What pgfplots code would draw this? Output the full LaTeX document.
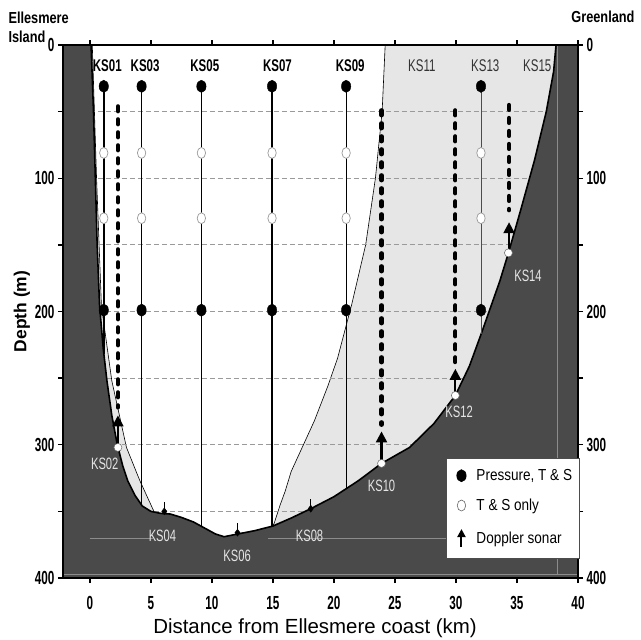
\documentclass[border=0pt]{standalone}
\usepackage{fontspec}
\setmainfont{Liberation Sans}
\newfontfamily\tickf{Liberation Sans}[FakeStretch=0.62]
\newfontfamily\labf{Liberation Sans}[FakeStretch=0.68]
\newfontfamily\legf{Liberation Sans}[FakeStretch=0.85]
\newfontfamily\geof{Liberation Sans}[FakeStretch=0.8]
\usepackage{pgfplots}
\pgfplotsset{compat=1.18}
\usetikzlibrary{arrows.meta}
\definecolor{seabed}{HTML}{4A4A4A}
\definecolor{water}{HTML}{E6E6E6}
\definecolor{gridc}{HTML}{9A9A9A}
\begin{document}
\begin{tikzpicture}
\useasboundingbox (-63bp,-62bp) rectangle (578bp,578bp);
\pgfplotsset{
  common/.style={
    scale only axis, width=515bp, height=533bp,
    xmin=-2.2, xmax=40, ymin=0, ymax=400, y dir=reverse,
    axis line style={line width=1.6bp},
    tick style={line width=1.4bp, black},
    major tick length=5bp, minor tick length=5bp,
    tick align=outside,
    /pgf/number format/assume math mode=true,
    ticklabel style={font=\tickf\bfseries\fontsize{19}{19}\selectfont},
  },
  ml/.style={black, line width=1.6bp, forget plot},
  fmk/.style={only marks, mark=*, mark size=4.7bp, mark options={yscale=1.3, fill=black, draw=black}, forget plot},
  omk/.style={only marks, mark=*, mark size=4.2bp, mark options={yscale=1.3, fill=white, draw=gridc, line width=0.7bp}, forget plot},
  dl/.style={black, line width=4.2bp, dash pattern=on 5bp off 8bp, line cap=round, forget plot},
  arr/.style={black, line width=2.2bp, -{Triangle[length=11bp, width=11bp]}, forget plot},
  bmk/.style={only marks, mark=*, mark size=4bp, mark options={fill=white, draw=black!60, line width=0.5bp}, forget plot},
  smk/.style={only marks, mark=diamond*, mark size=3.5bp, mark options={fill=black}, forget plot},
  grd/.style={gridc, line width=0.8bp, dash pattern=on 5bp off 3bp, forget plot},
}
\begin{axis}[common,
  axis on top,
  xtick={0,5,...,40}, xtick pos=both, xticklabel pos=lower,
  xticklabel style={yshift=-10bp},
  ytick={0,100,...,400}, minor ytick={50,150,250,350}, ytick pos=both, yticklabel pos=left,
  ylabel={Depth (m)},
  ylabel style={font=\bfseries\fontsize{17.5}{17.5}\selectfont, yshift=-2bp},
]
% water masses
\addplot[fill=water, draw=none, forget plot] coordinates {(-2.2,0) (0.2,0) (0.55,100) (0.95,196) (1.8,252) (3.0,302) (4.1,327) (5.3,351) (5.3,400) (-2.2,400)};
\addplot[fill=water, draw=none, forget plot] coordinates {(24.2,0) (23.95,50) (23.4,100) (22.6,150) (21.45,195) (20.3,235) (19.5,256) (18.4,282) (17.3,304) (16.5,320) (16.0,335) (15.6,345) (15.1,359) (14.9,362) (14.9,400) (40,400) (40,0)};
\addplot[black, line width=0.6bp, forget plot] coordinates {(0.2,0) (0.55,100) (0.95,196) (1.8,252) (3.0,302) (4.1,327) (5.3,351)};
\addplot[black, line width=0.6bp, forget plot] coordinates {(24.2,0) (23.95,50) (23.4,100) (22.6,150) (21.45,195) (20.3,235) (19.5,256) (18.4,282) (17.3,304) (16.5,320) (16.0,335) (15.6,345) (15.1,359) (14.9,362)};
% grid
\addplot[grd] coordinates {(0,50) (40,50)};
\addplot[grd] coordinates {(0,100) (40,100)};
\addplot[grd] coordinates {(0,150) (40,150)};
\addplot[grd] coordinates {(0,200) (40,200)};
\addplot[grd] coordinates {(0,250) (40,250)};
\addplot[grd] coordinates {(0,300) (40,300)};
\addplot[grd] coordinates {(0,350) (40,350)};
% seabed
\addplot[fill=seabed, draw=none, forget plot] coordinates {(-2.2,0) (0.1,0) (0.3,50) (0.45,100) (0.6,150) (0.8,196) (1.1,228) (1.4,252) (1.8,278) (2.25,300) (2.7,316) (3.1,327) (3.7,338) (4.3,346) (5.0,350) (5.8,351.5) (6.6,352) (7.5,354.5) (8.5,358) (9.5,363) (10.3,367) (11.0,369) (12.1,367) (13.5,364.5) (15.0,361) (16.5,355) (18.1,348) (20.0,339) (22.0,327) (23.9,314) (26.2,302) (28.2,284) (29.95,263) (31.1,241) (32.1,216) (33.6,177) (34.3,156) (35.3,124) (36.45,86) (37.4,50) (38.0,20) (38.2,0) (40,0) (40,400) (-2.2,400)};
\addplot[black!45, line width=0.8bp, forget plot] coordinates {(0,370) (5.2,370)};
\addplot[black!45, line width=0.8bp, forget plot] coordinates {(14.6,370) (38.3,370)};
\addplot[black!45, line width=0.8bp, forget plot] coordinates {(-2.2,397) (40,397)};
\addplot[black!45, line width=0.8bp, forget plot] coordinates {(38.3,0) (38.3,397)};
\addplot[black, line width=1.6bp, forget plot] coordinates {(0.1,0) (0.3,50) (0.45,100) (0.6,150) (0.8,196) (1.1,228) (1.4,252) (1.8,278) (2.25,300) (2.7,316) (3.1,327) (3.7,338) (4.3,346) (5.0,350) (5.8,351.5) (6.6,352) (7.5,354.5) (8.5,358) (9.5,363) (10.3,367) (11.0,369) (12.1,367) (13.5,364.5) (15.0,361) (16.5,355) (18.1,348) (20.0,339) (22.0,327) (23.9,314) (26.2,302) (28.2,284) (29.95,263) (31.1,241) (32.1,216) (33.6,177) (34.3,156) (35.3,124) (36.45,86) (37.4,50) (38.0,20) (38.2,0)};
% mooring lines
\addplot[ml] coordinates {(1.14,31) (1.14,232)};
\addplot[ml] coordinates {(4.24,31) (4.24,345)};
\addplot[ml] coordinates {(9.14,31) (9.14,361)};
\addplot[ml] coordinates {(14.93,31) (14.93,361)};
\addplot[ml, line width=1.1bp] coordinates {(21.0,31) (21.0,333)};
\addplot[ml, line width=0.9bp, black!70] coordinates {(32.05,31) (32.05,217)};
% dashed (Doppler) lines
\addplot[dl] coordinates {(2.3,46) (2.3,272)};
\addplot[dl] coordinates {(23.9,49) (23.9,285)};
\addplot[dl] coordinates {(29.95,49) (29.95,238)};
\addplot[dl] coordinates {(34.35,45) (34.35,124)};
% arrows
\addplot[arr] coordinates {(2.3,300) (2.3,278)};
\addplot[arr] coordinates {(23.9,312) (23.9,290)};
\addplot[arr] coordinates {(29.95,261) (29.95,243)};
\addplot[arr] coordinates {(34.35,154) (34.35,133)};
% markers
\addplot[fmk] coordinates {(1.14,31) (1.14,199) (4.24,31) (4.24,199) (9.14,31) (9.14,199) (14.93,31) (14.93,199) (21.0,31) (21.0,199) (32.05,31) (32.05,199)};
\addplot[omk] coordinates {(1.14,81) (1.14,130) (4.24,81) (4.24,130) (9.14,81) (9.14,130) (14.93,81) (14.93,130) (21.0,81) (21.0,130) (32.05,81) (32.05,130)};
\addplot[bmk] coordinates {(2.3,302) (23.9,314) (29.95,263) (34.3,156)};
\addplot[smk] coordinates {(6.1,350) (12.1,366) (18.1,348)};
\addplot[black, line width=1bp, forget plot] coordinates {(6.1,350) (6.1,343)};
\addplot[black, line width=1bp, forget plot] coordinates {(12.1,366) (12.1,359)};
\addplot[black, line width=1bp, forget plot] coordinates {(18.1,348) (18.1,341)};
% labels
\begin{scope}[font=\labf\bfseries\fontsize{17}{17}\selectfont]
\node at (axis cs:1.43,15.5) {KS01};
\node at (axis cs:4.53,15.5) {KS03};
\node at (axis cs:9.42,15.5) {KS05};
\node at (axis cs:15.37,15.5) {KS07};
\node at (axis cs:21.33,15.5) {KS09};
\end{scope}
\begin{scope}[font=\labf\fontsize{17}{17}\selectfont, text=black!80]
\node at (axis cs:27.2,15.5) {KS11};
\node at (axis cs:32.4,15.5) {KS13};
\node at (axis cs:36.66,15.5) {KS15};
\end{scope}
\begin{scope}[font=\labf\fontsize{16.5}{16.5}\selectfont, text=black!10]
\node at (axis cs:1.22,314) {KS02};
\node at (axis cs:5.95,368) {KS04};
\node at (axis cs:12.07,383) {KS06};
\node at (axis cs:18.0,368) {KS08};
\node at (axis cs:23.9,331) {KS10};
\node at (axis cs:30.26,275) {KS12};
\node at (axis cs:35.9,173) {KS14};
\end{scope}
\end{axis}
\begin{axis}[common,
  axis x line=none, axis y line*=right,
  ytick={0,100,...,400}, yticklabel pos=right,
  ytick style={draw=none},
  legend style={at={(0.744,0.225)}, anchor=north west, draw=black!70, line width=0.6bp, fill=white,
    font=\legf\fontsize{16}{16}\selectfont, row sep=15bp, column sep=3bp, inner xsep=6bp, inner ysep=10bp,
    nodes={inner sep=1bp}},
  legend cell align=left,
]
\addlegendimage{legend image code/.code={\path[draw=none, fill=none] (0bp,-6bp) rectangle (20bp,6bp); \fill[black] (9bp,0bp) ellipse [x radius=4.7bp, y radius=6bp];}}
\addlegendentry{Pressure, T \& S}
\addlegendimage{legend image code/.code={\path[draw=none, fill=none] (0bp,-6bp) rectangle (20bp,6bp); \filldraw[fill=white, draw=black!60, line width=0.6bp] (9bp,0bp) ellipse [x radius=4.2bp, y radius=5.5bp];}}
\addlegendentry{T \& S only}
\addlegendimage{legend image code/.code={\path[draw=none, fill=none] (0bp,-6bp) rectangle (20bp,6bp); \draw[black, line width=2bp, -{Triangle[length=8bp, width=8bp]}] (9bp,-9bp) -- (9bp,9bp);}}
\addlegendentry{Doppler sonar}
\end{axis}
\node[anchor=base, font=\fontsize{20.5}{20.5}\selectfont] at (252bp,-55bp) {Distance from Ellesmere coast (km)};
\node[anchor=base west, font=\geof\bfseries\fontsize{16}{16}\selectfont] at (-58bp,554bp) {Ellesmere};
\node[anchor=base west, font=\geof\bfseries\fontsize{16}{16}\selectfont] at (-58bp,535bp) {Island};
\node[anchor=base east, font=\geof\bfseries\fontsize{16}{16}\selectfont] at (575bp,555bp) {Greenland};
\end{tikzpicture}
\end{document}
